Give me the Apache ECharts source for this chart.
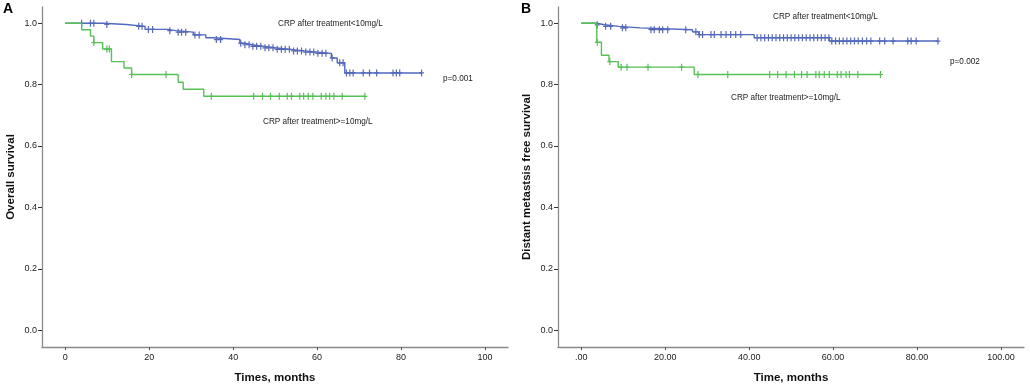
<!DOCTYPE html>
<html>
<head>
<meta charset="utf-8">
<script src="https://cdn.jsdelivr.net/npm/echarts@6/dist/echarts.min.js"></script>
<style>
  html, body { margin: 0; padding: 0; background: #fff; }
  #chart { width: 1030px; height: 389px; }
</style>
</head>
<body>
<div id="chart"></div>
<script>
// Panel A: overall survival (event times + survival after event, censor times)
var aLowTimes = [0, 9, 14.5, 19, 24.5, 26.3, 30.5, 33.5, 35.5, 41.6, 42.8, 44.5, 47, 50, 53.5, 57, 60, 63.4, 64.8, 66.6];
var aLowSurv = [1.0, 0.996, 0.99, 0.98, 0.976, 0.971, 0.962, 0.953, 0.947, 0.935, 0.930, 0.925, 0.920, 0.915, 0.910, 0.906, 0.902, 0.887, 0.871, 0.838];
var aLowCensor = [3.9, 6.0, 6.8, 9.9, 17.5, 18.3, 19.8, 20.8, 24.9, 26.9, 27.7, 28.7, 30.9, 31.9, 36.0, 37.0,
  41.8, 42.8, 43.8, 44.7, 45.6, 46.6, 47.6, 48.5, 49.5, 50.5, 51.5, 52.4, 53.4, 54.4, 55.3, 56.3, 57.3, 58.3,
  59.2, 60.2, 61.2, 62.1, 63.6, 65.4, 66.2, 67.0, 67.8, 68.6, 71.0, 72.5, 74.2, 78.1, 78.9, 79.7, 84.9];
var aHighTimes = [0, 3.9, 6.0, 6.8, 8.9, 11.0, 14.0, 15.8, 26.9, 28.1, 33.0];
var aHighSurv = [1.0, 0.979, 0.958, 0.937, 0.916, 0.875, 0.854, 0.833, 0.808, 0.785, 0.762];
var aHighCensor = [6.8, 9.9, 10.5, 15.8, 24.0, 34.8, 44.9, 47, 48.9, 51, 52.9, 53.9, 55.9, 56.8, 57.9, 59,
  61, 62.1, 63, 64, 66, 71.4];

// Panel B: distant metastasis free survival
var bLowTimes = [0, 3.7, 5.5, 9, 14, 26.5, 28, 41.2, 59.1];
var bLowSurv = [1.0, 0.995, 0.99, 0.985, 0.979, 0.972, 0.963, 0.953, 0.942];
var bLowCensor = [3.8, 5.8, 7.0, 9.8, 10.6, 16.6, 17.4, 18.6, 19.4, 20.6, 24.9, 27.3, 28.1, 28.9, 30.9, 31.7,
  33.3, 34.5, 35.6, 36.8, 38.0, 41.9, 42.8, 43.7, 44.6, 45.5, 46.4, 47.3, 48.2, 49.1, 50.0, 50.9, 51.8,
  52.7, 53.6, 54.5, 55.4, 56.3, 57.2, 58.1, 59.0, 59.7, 60.6, 61.5, 62.4, 63.3, 64.2, 65.1, 66.0, 67.0,
  68.0, 69.0, 71.1, 72.3, 74.3, 77.8, 78.6, 79.8, 85.0];
var bHighTimes = [0, 3.7, 4.8, 6.6, 8.8, 26.9];
var bHighSurv = [1.0, 0.938, 0.896, 0.875, 0.857, 0.833];
var bHighCensor = [3.8, 6.8, 9.5, 10.9, 15.9, 23.9, 27.8, 34.9, 44.9, 46.8, 48.8, 50.8, 52.5, 53.8, 55.9,
  56.7, 57.9, 59.1, 61, 61.9, 63.1, 63.9, 65.9, 71.3];

var xTicks = [0, 20, 40, 60, 80, 100];
var yTicks = [0, 0.2, 0.4, 0.6, 0.8, 1.0];

var BLUE = '#5068c0';
var BLUE_MARK = '#2f459f';
var GREEN = '#55c255';
var GREEN_MARK = '#36aa36';
var FONT = 'Liberation Sans, Arial, sans-serif';
var CENSOR = 'path://M1.9,0H3.1V7H1.9Z M0,2.9H5V4.1H0Z';

function survAt(t, times, surv) {
    var s = surv[0];
    for (var i = 0; i < times.length; i++) {
        if (times[i] <= t) s = surv[i];
    }
    return s;
}

function stepData(times, surv, censor) {
    var pts = times.map(function (t, i) { return [t, surv[i]]; });
    var end = Math.max.apply(null, censor);
    pts.push([end, surv[surv.length - 1]]);
    return pts;
}

function censorData(times, surv, censor) {
    return censor.map(function (t) { return [t, survAt(t, times, surv)]; });
}

function curve(idx, times, surv, censor, lineColor, markColor) {
    return [{
        type: 'line',
        xAxisIndex: idx,
        yAxisIndex: idx,
        step: 'end',
        showSymbol: false,
        silent: true,
        lineStyle: { color: lineColor, width: 1.4 },
        data: stepData(times, surv, censor)
    }, {
        type: 'scatter',
        xAxisIndex: idx,
        yAxisIndex: idx,
        symbol: CENSOR,
        symbolSize: [5, 7],
        silent: true,
        itemStyle: { color: markColor },
        data: censorData(times, surv, censor)
    }];
}

function xAxis(idx, name, fmt) {
    return {
        type: 'value',
        gridIndex: idx,
        min: -5.55,
        max: 105.5,
        name: name,
        nameLocation: 'middle',
        nameGap: 25,
        nameTextStyle: { fontFamily: FONT, fontWeight: 'bold', fontSize: 11.5, color: '#111' },
        axisLine: { onZero: false, lineStyle: { color: '#8a8a8a', width: 1.3 } },
        axisTick: { customValues: xTicks, length: 3, lineStyle: { color: '#555' } },
        axisLabel: { customValues: xTicks, margin: 6, fontFamily: FONT, fontSize: 9, color: '#222', formatter: fmt },
        splitLine: { show: false }
    };
}

function yAxis(idx, name) {
    return {
        type: 'value',
        gridIndex: idx,
        min: -0.055,
        max: 1.053,
        name: name,
        nameLocation: 'middle',
        nameGap: 25,
        nameTextStyle: { fontFamily: FONT, fontWeight: 'bold', fontSize: 11.5, color: '#111' },
        axisLine: { onZero: false, lineStyle: { color: '#8a8a8a', width: 1.3 } },
        axisTick: { customValues: yTicks, length: 4, lineStyle: { color: '#333' } },
        axisLabel: { customValues: yTicks, margin: 5, fontFamily: FONT, fontSize: 9, color: '#222',
            formatter: function (v) { return v.toFixed(1); } },
        splitLine: { show: false }
    };
}

function note(text, left, y) {
    return {
        type: 'text',
        left: left,
        top: y - 5,
        style: { text: text, font: '8.2px ' + FONT, fill: '#222' }
    };
}

var chart = echarts.init(document.getElementById('chart'));
var option = {
    animation: false,
    backgroundColor: '#fff',
    textStyle: { fontFamily: FONT },
    grid: [
        { left: 42, top: 7, width: 466, height: 342 },
        { left: 558, top: 7, width: 466, height: 342 }
    ],
    xAxis: [
        xAxis(0, 'Times, months', function (v) { return String(v); }),
        xAxis(1, 'Time, months', function (v) { return v === 0 ? '.00' : v.toFixed(2); })
    ],
    yAxis: [
        yAxis(0, 'Overall survival'),
        yAxis(1, 'Distant metastsis free survival')
    ],
    series: [].concat(
        curve(0, aLowTimes, aLowSurv, aLowCensor, BLUE, BLUE_MARK),
        curve(0, aHighTimes, aHighSurv, aHighCensor, GREEN, GREEN_MARK),
        curve(1, bLowTimes, bLowSurv, bLowCensor, BLUE, BLUE_MARK),
        curve(1, bHighTimes, bHighSurv, bHighCensor, GREEN, GREEN_MARK)
    ),
    graphic: [
        { type: 'text', left: 3, top: 2, style: { text: 'A', font: 'bold 14px ' + FONT, fill: '#000' } },
        { type: 'text', left: 521, top: 2, style: { text: 'B', font: 'bold 14px ' + FONT, fill: '#000' } },
        note('CRP after treatment<10mg/L', 278, 25),
        note('p=0.001', 443, 80),
        note('CRP after treatment>=10mg/L', 263, 123),
        note('CRP after treatment<10mg/L', 773, 18),
        note('p=0.002', 950, 63),
        note('CRP after treatment>=10mg/L', 731, 99)
    ]
};
chart.setOption(option);
</script>
</body>
</html>
